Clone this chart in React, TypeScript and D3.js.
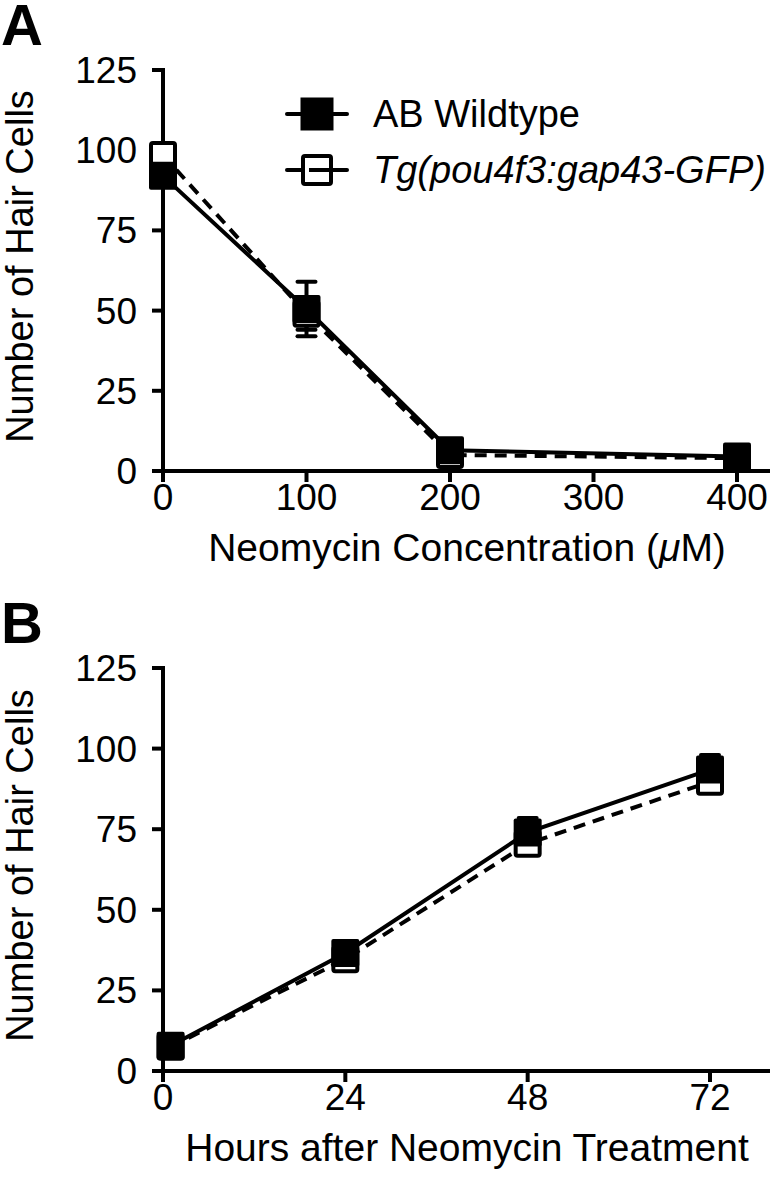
import React from "react";
import * as d3 from "d3";

const doseX = [0, 100, 200, 400];
const wtDose = [92, 50.5, 6.5, 4.5];
const wtDoseErr = [3, 8.5, 1.5, 1];
const tgDose = [98.5, 49, 5, 4];
const tgDoseErr = [3, 5, 1, 1];

const hoursX = [1, 24, 48, 72];
const wtHours = [7.8, 36.6, 74, 93.5];
const wtHoursErr = [1.5, 3, 4.5, 4.5];
const tgHours = [7.5, 34.7, 70.5, 89.7];
const tgHoursErr = [1.5, 3, 3, 3];

const yTicks = [0, 25, 50, 75, 100, 125];
const doseTicks = [0, 100, 200, 300, 400];
const hourTicks = [0, 24, 48, 72];

const FONT = "'Liberation Sans', Arial, Helvetica, sans-serif";
const TICK_FS = 37;
const TITLE_FS = 38;

type PanelProps = {
  letter: string;
  top: number;
  bottom: number;
  xDomain: [number, number];
  xRange: [number, number];
  xTicks: number[];
  xs: number[];
  wt: number[];
  wtErr: number[];
  tg: number[];
  tgErr: number[];
  xLabel: React.ReactNode;
  letterY: number;
  legend?: boolean;
};

function Panel(p: PanelProps) {
  const x = d3.scaleLinear().domain(p.xDomain).range(p.xRange);
  const y = d3.scaleLinear().domain([0, 125]).range([p.bottom, p.top]);
  const axisX = 163;
  const line = d3
    .line<number>()
    .x((_, i) => x(p.xs[i]))
    .y((d) => y(d));
  const markerW = 28;
  const openW = 24;
  const cap = 9;
  const errBar = (xv: number, v: number, e: number, key: string) => (
    <g key={key} stroke="#000" strokeWidth={4}>
      <line x1={x(xv)} x2={x(xv)} y1={y(v + e)} y2={y(v - e)} />
      <line x1={x(xv) - cap} x2={x(xv) + cap} y1={y(v + e)} y2={y(v + e)} strokeLinecap="round" />
      <line x1={x(xv) - cap} x2={x(xv) + cap} y1={y(v - e)} y2={y(v - e)} strokeLinecap="round" />
    </g>
  );
  return (
    <g>
      <text x={1} y={p.letterY} fontFamily={FONT} fontWeight="bold" fontSize={58}>
        {p.letter}
      </text>
      {/* y axis */}
      <line x1={axisX} x2={axisX} y1={y(125) - 2} y2={p.bottom} stroke="#000" strokeWidth={4} />
      {yTicks.map((t) => (
        <g key={"yt" + t}>
          <line x1={152} x2={axisX} y1={y(t)} y2={y(t)} stroke="#000" strokeWidth={4} />
          <text
            x={137}
            y={y(t) + 13}
            textAnchor="end"
            fontFamily={FONT}
            fontSize={TICK_FS}
          >
            {t}
          </text>
        </g>
      ))}
      <text
        transform={`translate(33,${(p.top + p.bottom) / 2 - 4}) rotate(-90)`}
        textAnchor="middle"
        fontFamily={FONT}
        fontSize={TITLE_FS}
      >
        Number of Hair Cells
      </text>
      {/* x axis */}
      <line x1={152} x2={770} y1={p.bottom} y2={p.bottom} stroke="#000" strokeWidth={4} />
      {p.xTicks.map((t) => (
        <g key={"xt" + t}>
          <line x1={x(t)} x2={x(t)} y1={p.bottom} y2={p.bottom + 11} stroke="#000" strokeWidth={4} />
          <text
            x={x(t)}
            y={p.bottom + 39}
            textAnchor="middle"
            fontFamily={FONT}
            fontSize={TICK_FS}
          >
            {t}
          </text>
        </g>
      ))}
      <text x={467} y={p.bottom + 90} textAnchor="middle" fontFamily={FONT} fontSize={39}>
        {p.xLabel}
      </text>
      {/* error bars */}
      {p.xs.map((xv, i) => errBar(xv, p.tg[i], p.tgErr[i], "te" + i))}
      {p.xs.map((xv, i) => errBar(xv, p.wt[i], p.wtErr[i], "we" + i))}
      {/* Tg series: dashed line + open squares */}
      <path d={line(p.tg) || ""} fill="none" stroke="#000" strokeWidth={4} strokeDasharray="12,8" />
      {p.xs.map((xv, i) => (
        <rect
          key={"to" + i}
          x={x(xv) - openW / 2}
          y={y(p.tg[i]) - openW / 2}
          width={openW}
          height={openW}
          fill="#fff"
          stroke="#000"
          strokeWidth={4}
          rx={2}
        />
      ))}
      {/* WT series: solid line + filled squares */}
      <path d={line(p.wt) || ""} fill="none" stroke="#000" strokeWidth={4} />
      {p.xs.map((xv, i) => (
        <rect
          key={"wf" + i}
          x={x(xv) - markerW / 2}
          y={y(p.wt[i]) - markerW / 2}
          width={markerW}
          height={markerW}
          fill="#000"
          rx={2}
        />
      ))}
      {p.legend && (
        <g>
          <line x1={287} x2={347} y1={114} y2={114} stroke="#000" strokeWidth={4} strokeLinecap="round" />
          <rect x={317 - 16.5} y={114 - 16.5} width={33} height={33} fill="#000" />
          <text x={373} y={114 + 13} fontFamily={FONT} fontSize={38}>
            AB Wildtype
          </text>
          <line x1={287} x2={347} y1={170} y2={170} stroke="#000" strokeWidth={4} strokeLinecap="round" />
          <rect
            x={317 - 14}
            y={170 - 14}
            width={28}
            height={28}
            fill="#fff"
            stroke="#000"
            strokeWidth={4}
            rx={2}
          />
          <line x1={309} x2={331} y1={170} y2={170} stroke="#000" strokeWidth={4} />
          <text x={373} y={170 + 13} fontFamily={FONT} fontSize={38} fontStyle="italic">
            Tg(pou4f3:gap43-GFP)
          </text>
        </g>
      )}
    </g>
  );
}

export default function App() {
  return (
    <svg
      width={775}
      height={1199}
      style={{ position: "absolute", left: 0, top: 0, background: "#fff" }}
    >
      <rect width={775} height={1199} fill="#fff" />
      <Panel
        letter="A"
        letterY={45}
        top={70}
        bottom={471}
        xDomain={[0, 400]}
        xRange={[163, 737]}
        xTicks={doseTicks}
        xs={doseX}
        wt={wtDose}
        wtErr={wtDoseErr}
        tg={tgDose}
        tgErr={tgDoseErr}
        xLabel={
          <>
            Neomycin Concentration (<tspan fontStyle="italic">μ</tspan>M)
          </>
        }
        legend
      />
      <Panel
        letter="B"
        letterY={643}
        top={668}
        bottom={1071}
        xDomain={[0, 72]}
        xRange={[163, 710]}
        xTicks={hourTicks}
        xs={hoursX}
        wt={wtHours}
        wtErr={wtHoursErr}
        tg={tgHours}
        tgErr={tgHoursErr}
        xLabel="Hours after Neomycin Treatment"
      />
    </svg>
  );
}
